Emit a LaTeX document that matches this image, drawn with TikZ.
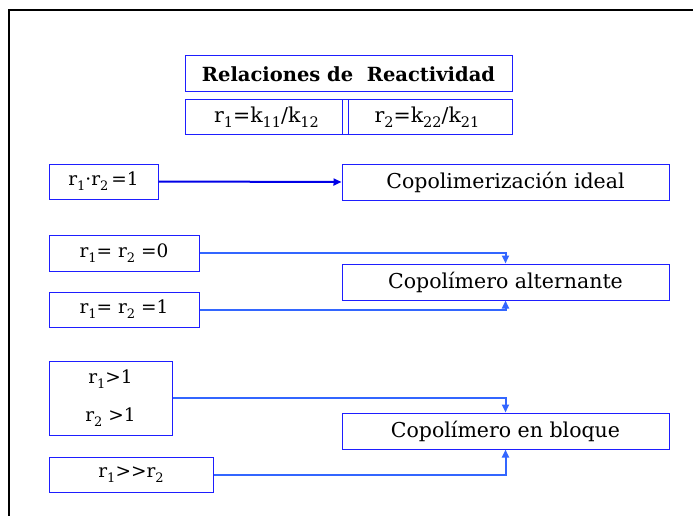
\documentclass[tikz,border=0pt]{standalone}
\usepackage{fontspec}
\setmainfont{DejaVu Serif}
\usetikzlibrary{arrows.meta}
\definecolor{boxblue}{RGB}{30,30,255}
\definecolor{lineblue}{RGB}{51,102,255}
\definecolor{darkarrow}{RGB}{0,0,230}
\newcommand\sbs[1]{\raisebox{-0.5ex}{\fontsize{13}{13}\selectfont #1}}
\newcommand\sbl[1]{\raisebox{-0.5ex}{\fontsize{14.5}{14.5}\selectfont #1}}
\begin{document}
\begin{tikzpicture}[x=1pt,y=-1pt,
  box/.style={draw=boxblue,line width=1pt,rectangle,inner sep=0pt,font=\fontsize{18.5}{22}\selectfont},
  bigtext/.style={font=\fontsize{20.5}{24}\selectfont},
  conn/.style={draw=lineblue,line width=2pt,-{Triangle[length=8pt,width=7pt]}},
  conndark/.style={draw=darkarrow,line width=2pt,-{Triangle[length=8pt,width=7pt]}}]
\useasboundingbox (0,0) rectangle (693,516);
\draw[line width=2.2pt] (9,516) -- (9,10) -- (693,10);
\node[box,minimum width=327pt,minimum height=36pt,font=\bfseries\fontsize{19.5}{23}\selectfont] (title) at (348.5,74) {Relaciones de\ \ Reactividad};
\node[box,bigtext,minimum width=163pt,minimum height=35pt] (rk1) at (266.5,117.5) {r\sbl{1}=k\sbl{11}/k\sbl{12}};
\node[box,bigtext,minimum width=170pt,minimum height=35pt] (rk2) at (427,117.5) {r\sbl{2}=k\sbl{22}/k\sbl{21}};
\node[box,minimum width=109pt,minimum height=35pt] (c1) at (103.5,181.5) {r\sbs{1}·r\sbs{2}\,=1};
\node[box,bigtext,minimum width=327pt,minimum height=36pt] (ideal) at (505.5,182) {Copolimerización ideal};
\node[box,minimum width=150pt,minimum height=36pt] (c2) at (124,253) {r\sbs{1}= r\sbs{2} =0};
\node[box,minimum width=150pt,minimum height=35pt] (c3) at (124,309.5) {r\sbs{1}= r\sbs{2} =1};
\node[box,bigtext,minimum width=327pt,minimum height=36pt] (alt) at (505.5,282) {Copolímero alternante};
\node[box,minimum width=123pt,minimum height=74pt,align=center,font=\fontsize{18.5}{38}\selectfont] (c4) at (110.5,398) {r\sbs{1}>1\\r\sbs{2} >1};
\node[box,minimum width=164pt,minimum height=35pt] (c5) at (131,474.5) {r\sbs{1}>{}>r\sbs{2}};
\node[box,bigtext,minimum width=327pt,minimum height=36pt] (blk) at (505.5,431) {Copolímero en bloque};
\draw[conndark] (c1.east) -- (ideal.west);
\draw[conn] (c2.east) -| (alt.north);
\draw[conn] (c3.east) -| (alt.south);
\draw[conn] (c4.east) -| (blk.north);
\draw[conn] (c5.east) -| (blk.south);
\end{tikzpicture}
\end{document}
